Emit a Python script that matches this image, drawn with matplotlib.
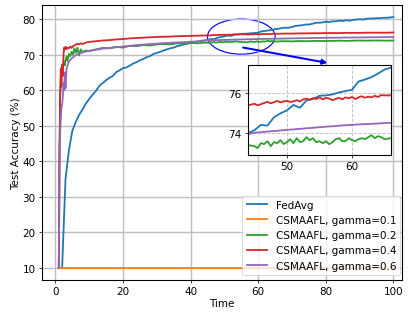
import numpy as np
import matplotlib
matplotlib.use("Agg")
import matplotlib.pyplot as plt
from matplotlib.patches import Ellipse

# ── Data ──────────────────────────────────────────────────
fedavg_t = np.arange(2, 101, 1)
fedavg = [10, 35, 43, 48.5, 51, 53, 54.5, 56.2, 57.5, 58.7,
          59.8, 61.2, 62.0, 62.8, 63.5, 64.0, 65.1, 65.6, 66.2, 66.4,
          66.9, 67.5, 67.9, 68.4, 68.8, 69.3, 69.6, 70.2, 70.5, 70.8,
          71.2, 71.5, 71.8, 72.0, 72.4, 72.6, 72.9, 73.1, 73.3, 73.5,
          73.7, 73.9, 74.0, 74.15, 74.42, 74.38, 74.8, 75.0, 75.15, 75.42,
          75.28, 75.65, 75.72, 75.88, 75.9, 75.95, 76.05, 76.12, 76.18, 76.6,
          76.7, 76.82, 77.0, 77.2, 77.3, 77.5, 77.6, 77.6, 77.8, 78.1,
          78.2, 78.3, 78.5, 78.5, 78.7, 79.0, 79.0, 79.1, 79.3, 79.2,
          79.4, 79.4, 79.6, 79.5, 79.7, 79.6, 79.8, 79.9, 80.0, 79.9,
          80.1, 80.2, 80.2, 80.3, 80.3, 80.4, 80.4, 80.5, 80.6]

# CSMAAFL runs share one time grid: dense early, 0.5 steps in the zoomed window
t_early = [1.0, 1.1, 1.2, 1.3, 1.4, 1.6, 1.8, 2.0, 2.2, 2.4, 2.6, 2.8, 3.0,
           3.3, 3.6, 4.0, 4.4, 4.8, 5.2, 5.6, 6.0, 6.5, 7.0, 7.5, 8.0, 9.0, 10.0]
cs_t = np.concatenate([t_early, np.arange(12, 45, 2),
                       np.arange(45, 65.25, 0.5), np.arange(66, 101, 2)])

orange_t = [1, 100]
g01 = [10, 10]

g02 = ([10, 20, 40, 50, 58, 63, 66, 67.2, 66.5, 67.8, 68.0, 67.0, 68.5,
        69.5, 68.2, 70.2, 69.6, 70.8, 70.0, 71.8, 70.5, 72.0, 69.8, 71.5, 70.8, 71.2, 71.0]
       + [71.5, 71.9, 71.8, 72.2, 72.0, 72.5, 72.4, 72.7, 72.6, 72.9,
          73.0, 72.9, 73.2, 73.1, 73.3, 73.2, 73.4]
       + [73.35, 73.25, 73.50, 73.45, 73.60, 73.35, 73.55, 73.50, 73.65, 73.45,
          73.55, 73.70, 73.50, 73.75, 73.55, 73.60, 73.80, 73.65, 73.75, 73.55,
          73.60, 73.50, 73.60, 73.45, 73.55, 73.70, 73.75, 73.60, 73.60, 73.75,
          73.65, 73.60, 73.70, 73.75, 73.70, 73.80, 73.90, 73.75, 73.85, 73.80,
          73.70]
       + [73.75, 73.8, 73.75, 73.85, 73.8, 73.85, 73.9, 73.85, 73.9, 73.95,
          73.9, 73.95, 74.0, 73.95, 74.0, 74.0, 73.95, 74.0])

g04 = ([10, 19, 44, 47, 58, 66, 61, 67, 64, 70, 72, 71.5, 72.2,
        71.6, 72.0, 71.8, 72.3, 71.9, 72.4, 72.6, 72.8, 73.1, 72.9, 73.2, 73.0, 73.4, 73.6]
       + [73.8, 74.0, 74.1, 74.3, 74.4, 74.6, 74.7, 74.8, 74.9, 75.0,
          75.05, 75.1, 75.2, 75.25, 75.3, 75.35, 75.4]
       + [75.48, 75.40, 75.46, 75.52, 75.58, 75.50, 75.56, 75.62, 75.55, 75.60,
          75.63, 75.57, 75.60, 75.66, 75.59, 75.70, 75.74, 75.68, 75.76, 75.72,
          75.80, 75.70, 75.78, 75.74, 75.66, 75.72, 75.78, 75.70, 75.80, 75.76,
          75.82, 75.72, 75.80, 75.86, 75.78, 75.84, 75.80, 75.88, 75.82, 75.92,
          75.90]
       + [75.9, 75.95, 75.95, 76.0, 76.0, 76.05, 76.05, 76.1, 76.1, 76.1,
          76.15, 76.15, 76.15, 76.2, 76.2, 76.2, 76.2, 76.25])

g06 = ([10, 20, 35, 43, 48, 52, 55, 56, 58, 62, 60, 65, 60.5,
        66, 67, 68, 68.5, 69, 69.2, 69.6, 69.8, 70.1, 70.3, 70.5, 70.6, 70.9, 71.1]
       + [71.4, 71.7, 71.9, 72.1, 72.3, 72.5, 72.7, 72.85, 73.0, 73.1,
          73.25, 73.35, 73.45, 73.55, 73.65, 73.75, 73.95]
       + [74.02, 74.04, 74.05, 74.07, 74.08, 74.10, 74.11, 74.12, 74.14, 74.15,
          74.17, 74.18, 74.19, 74.21, 74.22, 74.23, 74.25, 74.26, 74.27, 74.29,
          74.30, 74.31, 74.33, 74.34, 74.35, 74.36, 74.38, 74.39, 74.40, 74.41,
          74.42, 74.43, 74.44, 74.45, 74.46, 74.46, 74.47, 74.48, 74.49, 74.50,
          74.51]
       + [74.52, 74.56, 74.6, 74.63, 74.66, 74.69, 74.72, 74.75, 74.78, 74.8,
          74.83, 74.85, 74.87, 74.89, 74.91, 74.93, 74.95, 74.97])

series = [
    ("FedAvg", fedavg_t, fedavg, "tab:blue"),
    ("CSMAAFL, gamma=0.1", orange_t, g01, "tab:orange"),
    ("CSMAAFL, gamma=0.2", cs_t, g02, "tab:green"),
    ("CSMAAFL, gamma=0.4", cs_t, g04, "tab:red"),
    ("CSMAAFL, gamma=0.6", cs_t, g06, "tab:purple"),
]

plt.rcParams["font.size"] = 11.5
plt.rcParams["axes.linewidth"] = 1.2

# ── Figure ────────────────────────────────────────────────
fig = plt.figure(figsize=(6.4, 4.83), dpi=65)
ax = fig.add_axes([0.101, 0.105, 0.865, 0.876])

for label, t, y, c in series:
    ax.plot(t, y, color=c, label=label, lw=2.0)

ax.set_xlim(-3.95, 102.5)
ax.set_ylim(6.5, 84.0)
ax.grid(True, color="#c0c0c0", lw=1.6)
ax.set_xlabel("Time", labelpad=2)
ax.set_ylabel("Test Accuracy (%)", labelpad=2)
ax.legend(loc="lower right", bbox_to_anchor=(1.01, 0.0), handlelength=2.0)

# zoom marker + arrow
ax.add_patch(Ellipse((55, 75.1), 20, 9.9, fill=False, edgecolor="blue", lw=1.3))
ax.annotate("", xy=(81, 67.6), xytext=(55, 72.1),
            arrowprops=dict(arrowstyle="-|>", color="blue", lw=2.2, mutation_scale=11))

# ── Inset ─────────────────────────────────────────────────
axins = fig.add_axes([0.596, 0.503, 0.344, 0.287])
for label, t, y, c in series:
    axins.plot(t, y, color=c, lw=2.0)
axins.set_xlim(44, 66)
axins.set_ylim(72.9, 77.43)
axins.set_xticks([50, 60])
axins.set_yticks([74, 76])
axins.grid(True, ls="--", color="#c0c0c0", lw=1.0)

fig.savefig("out.png", dpi=65)
